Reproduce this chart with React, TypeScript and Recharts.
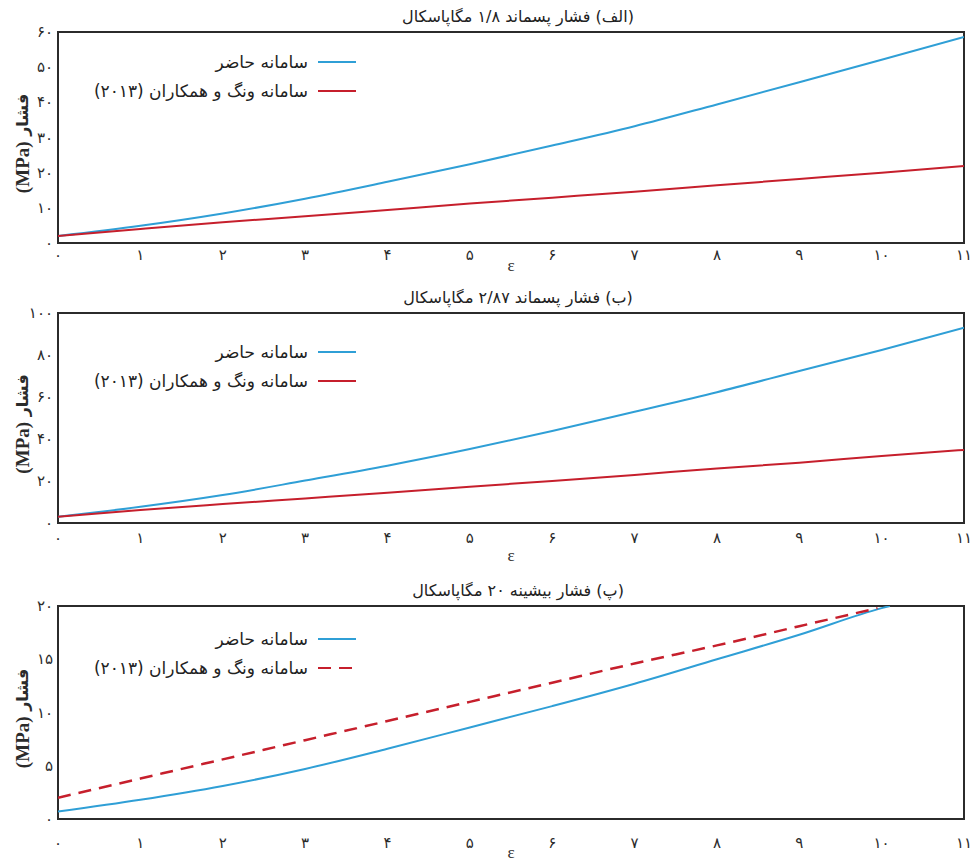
import React from 'react'
import { LineChart, Line, XAxis, YAxis, Legend, ReferenceArea } from 'recharts'

const FA_FONT = '"DejaVu Sans", "Noto Sans", sans-serif'
const INK = '#2b2b2b'
const BLUE = '#2f9fd6'
const RED = '#c61f2c'

// strain values (x)
const eps = [0, 1, 2, 3, 4, 5, 6, 7, 8, 9, 10, 11]
const epsPresentC = [0, 1, 2, 3, 4, 5, 6, 7, 8, 9, 10, 10.1]
const epsWangC = [0, 1, 2, 3, 4, 5, 6, 7, 8, 9, 9.95]

// (الف) residual 1.8 MPa
const presentA = [2.0, 4.9, 8.4, 12.6, 17.4, 22.4, 27.7, 33.2, 39.4, 45.7, 52.1, 58.6]
const wangA = [2.0, 4.0, 5.9, 7.6, 9.4, 11.2, 12.9, 14.6, 16.4, 18.2, 20.0, 21.9]
// (ب) residual 2.87 MPa
const presentB = [3.0, 7.7, 13.3, 20.2, 27.3, 35.2, 43.8, 53.0, 62.3, 72.4, 82.4, 93.0]
const wangB = [3.0, 6.2, 9.0, 11.7, 14.4, 17.3, 20.0, 22.9, 26.0, 28.7, 31.9, 34.8]
// (پ) max 20 MPa
const presentC = [0.7, 1.8, 3.1, 4.7, 6.6, 8.6, 10.6, 12.7, 15.0, 17.3, 19.8, 20.0]
const wangC = [2.0, 3.8, 5.6, 7.4, 9.2, 11.0, 12.8, 14.6, 16.3, 18.1, 19.8]

const xMajorTicks = [0, 1, 2, 3, 4, 5, 6, 7, 8, 9, 10, 11]
const xTickLabels = ['۰', '۱', '۲', '۳', '۴', '۵', '۶', '۷', '۸', '۹', '۱۰', '۱۱']
const yTicksA = [0, 10, 20, 30, 40, 50, 60]
const yLabelsA = ['۰', '۱۰', '۲۰', '۳۰', '۴۰', '۵۰', '۶۰']
const yTicksB = [0, 20, 40, 60, 80, 100]
const yLabelsB = ['۰', '۲۰', '۴۰', '۶۰', '۸۰', '۱۰۰']
const yTicksC = [0, 5, 10, 15, 20]
const yLabelsC = ['۰', '۵', '۱۰', '۱۵', '۲۰']

const titles = [
  '(الف) فشار پسماند ۱/۸ مگاپاسکال',
  '(ب) فشار پسماند ۲/۸۷ مگاپاسکال',
  '(پ) فشار بیشینه ۲۰ مگاپاسکال',
]
const seriesNames = ['سامانه حاضر', 'سامانه ونگ و همکاران (۲۰۱۳)']

type Row = { eps: number; p: number }
const toRows = (xs: number[], ys: number[]): Row[] => xs.map((x, i) => ({ eps: x, p: ys[i] }))

const W = 975
const LEFT = 58
const RIGHT = 11

// minor x ticks every 0.2
const xMinorTicks = Array.from({ length: 56 }, (_, i) => i / 5)

const tickStroke = { stroke: INK, strokeWidth: 1.6 }

function makeXLabelTick(labelDy: number) {
  return (props: any) => (
    <text x={props.x} y={Number(props.y) + labelDy} textAnchor="middle" fontFamily={FA_FONT} fontSize={15} fill={INK}>
      {xTickLabels[props.payload.value]}
    </text>
  )
}

function makeYLabelTick(majors: number[], labels: string[]) {
  return (props: any) => (
    <text x={Number(props.x) - 5} y={Number(props.y) + 5} textAnchor="end" fontFamily={FA_FONT} fontSize={15} fill={INK}>
      {labels[majors.indexOf(props.payload.value)]}
    </text>
  )
}

const yLabel = (props: any) => {
  const vb = props.viewBox
  const cy = vb.y + vb.height / 2 + 6
  return (
    <text transform={`translate(22,${cy}) rotate(-90)`} textAnchor="middle" dominantBaseline="central" fill={INK}>
      <tspan fontFamily='"Liberation Serif", serif' fontWeight="bold" fontSize={19}>(MPa)</tspan>
      <tspan fontFamily={FA_FONT} fontWeight="bold" fontSize={16}> فشار</tspan>
    </text>
  )
}

const makeXLabel = (dy: number) => (props: any) => {
  const vb = props.viewBox
  return (
    <text x={vb.x + vb.width / 2} y={vb.y + dy} textAnchor="middle" fontFamily='"Liberation Serif", serif' fontSize={17} fill={INK}>
      ε
    </text>
  )
}

const renderLegend = (props: any) => (
  <div style={{ direction: 'rtl', fontFamily: FA_FONT, fontSize: 17, color: '#222' }}>
    {(props.payload || [])
      .filter((e: any) => seriesNames.includes(e.value))
      .map((e: any) => (
        <div key={e.value} style={{ display: 'flex', alignItems: 'center', height: 29 }}>
          <svg width={38} height={6} style={{ flex: 'none' }}>
            <line x1={0} x2={38} y1={3} y2={3} stroke={e.color} strokeWidth={2} strokeDasharray={e.payload?.strokeDasharray} />
          </svg>
          <span style={{ marginRight: 10, whiteSpace: 'nowrap' }}>{e.value}</span>
        </div>
      ))}
  </div>
)

type PanelProps = {
  top: number
  height: number
  marginTop: number
  axisH: number
  yMax: number
  yStep: number
  yMajors: number[]
  yLabels: string[]
  title: string
  titleY: number
  xLabelDy: number
  epsDy: number
  legendTop: number
  present: Row[]
  wang: Row[]
  dashed?: boolean
}

function Panel(pp: PanelProps) {
  const xDomain: [number, number] = [0, 11]
  const yDomain: [number, number] = [0, pp.yMax]
  const yMinor = Array.from({ length: Math.round(pp.yMax / pp.yStep) + 1 }, (_, i) => i * pp.yStep)
  // mirrored axes that only draw inward tick marks
  const markAxes = [
    <XAxis key="bMin" xAxisId="bMin" mirror type="number" domain={xDomain} ticks={xMinorTicks} interval={0}
      axisLine={false} tickLine={tickStroke} tickSize={4.5} tick={false} />,
    <XAxis key="bMaj" xAxisId="bMaj" mirror type="number" domain={xDomain} ticks={xMajorTicks} interval={0}
      axisLine={false} tickLine={tickStroke} tickSize={9} tick={false} />,
    <XAxis key="tMin" xAxisId="tMin" orientation="top" mirror type="number" domain={xDomain} ticks={xMinorTicks} interval={0}
      axisLine={false} tickLine={tickStroke} tickSize={4.5} tick={false} />,
    <XAxis key="tMaj" xAxisId="tMaj" orientation="top" mirror type="number" domain={xDomain} ticks={xMajorTicks} interval={0}
      axisLine={false} tickLine={tickStroke} tickSize={9} tick={false} />,
    <YAxis key="lMin" yAxisId="lMin" mirror type="number" domain={yDomain} ticks={yMinor} interval={0}
      axisLine={false} tickLine={tickStroke} tickSize={4} tick={false} />,
    <YAxis key="lMaj" yAxisId="lMaj" mirror type="number" domain={yDomain} ticks={pp.yMajors} interval={0}
      axisLine={false} tickLine={tickStroke} tickSize={8} tick={false} />,
    <YAxis key="rMin" yAxisId="rMin" orientation="right" mirror type="number" domain={yDomain} ticks={yMinor} interval={0}
      axisLine={false} tickLine={tickStroke} tickSize={4} tick={false} />,
    <YAxis key="rMaj" yAxisId="rMaj" orientation="right" mirror type="number" domain={yDomain} ticks={pp.yMajors} interval={0}
      axisLine={false} tickLine={tickStroke} tickSize={8} tick={false} />,
  ]
  return (
    <div style={{ position: 'absolute', left: 0, top: pp.top, width: W, height: pp.height }}>
      <LineChart width={W} height={pp.height} margin={{ top: pp.marginTop, right: RIGHT, bottom: 0, left: 0 }}>
        <XAxis
          dataKey="eps"
          type="number"
          domain={xDomain}
          ticks={xMajorTicks}
          interval={0}
          allowDataOverflow
          height={pp.axisH}
          axisLine={false}
          tickLine={false}
          tickSize={0}
          tickMargin={0}
          tick={makeXLabelTick(pp.xLabelDy)}
          label={makeXLabel(pp.epsDy)}
        />
        <YAxis
          type="number"
          domain={yDomain}
          ticks={pp.yMajors}
          interval={0}
          allowDataOverflow
          width={LEFT}
          axisLine={false}
          tickLine={false}
          tickSize={0}
          tickMargin={0}
          tick={makeYLabelTick(pp.yMajors, pp.yLabels)}
          label={yLabel}
        />
        {markAxes}
        <ReferenceArea x1={0} x2={11} y1={0} y2={pp.yMax} fill="none" stroke={INK} strokeWidth={2} ifOverflow="visible" />
        <Line
          data={pp.present}
          dataKey="p"
          name={seriesNames[0]}
          type="monotone"
          stroke={BLUE}
          strokeWidth={2}
          dot={false}
          isAnimationActive={false}
        />
        <Line
          data={pp.wang}
          dataKey="p"
          name={seriesNames[1]}
          type="monotone"
          stroke={RED}
          strokeWidth={pp.dashed ? 2.5 : 2}
          strokeDasharray={pp.dashed ? '13 8' : undefined}
          dot={false}
          isAnimationActive={false}
        />
        <Legend
          layout="vertical"
          align="center"
          verticalAlign="middle"
          content={renderLegend}
          wrapperStyle={{ left: 0, top: pp.legendTop, width: 356 }}
        />
      </LineChart>
      <div
        style={{
          position: 'absolute',
          left: 318,
          width: 400,
          top: pp.titleY - 11,
          textAlign: 'center',
          direction: 'rtl',
          fontFamily: FA_FONT,
          fontSize: 16,
          color: '#222',
          lineHeight: '22px',
        }}
      >
        {pp.title}
      </div>
    </div>
  )
}

export default function App() {
  return (
    <div style={{ position: 'absolute', left: 0, top: 0, width: W, height: 868, background: '#fff' }}>
      <Panel
        top={0}
        height={290}
        marginTop={32}
        axisH={47}
        yMax={60}
        yStep={2}
        yMajors={yTicksA}
        yLabels={yLabelsA}
        title={titles[0]}
        titleY={17}
        xLabelDy={17}
        epsDy={28}
        legendTop={47}
        present={toRows(eps, presentA)}
        wang={toRows(eps, wangA)}
      />
      <Panel
        top={290}
        height={290}
        marginTop={23}
        axisH={57}
        yMax={100}
        yStep={5}
        yMajors={yTicksB}
        yLabels={yLabelsB}
        title={titles[1]}
        titleY={8}
        xLabelDy={20}
        epsDy={38}
        legendTop={47}
        present={toRows(eps, presentB)}
        wang={toRows(eps, wangB)}
      />
      <Panel
        top={580}
        height={288}
        marginTop={26}
        axisH={49}
        yMax={20}
        yStep={1}
        yMajors={yTicksC}
        yLabels={yLabelsC}
        title={titles[2]}
        titleY={11}
        xLabelDy={29}
        epsDy={39}
        legendTop={44}
        present={toRows(epsPresentC, presentC)}
        wang={toRows(epsWangC, wangC)}
        dashed
      />
    </div>
  )
}
